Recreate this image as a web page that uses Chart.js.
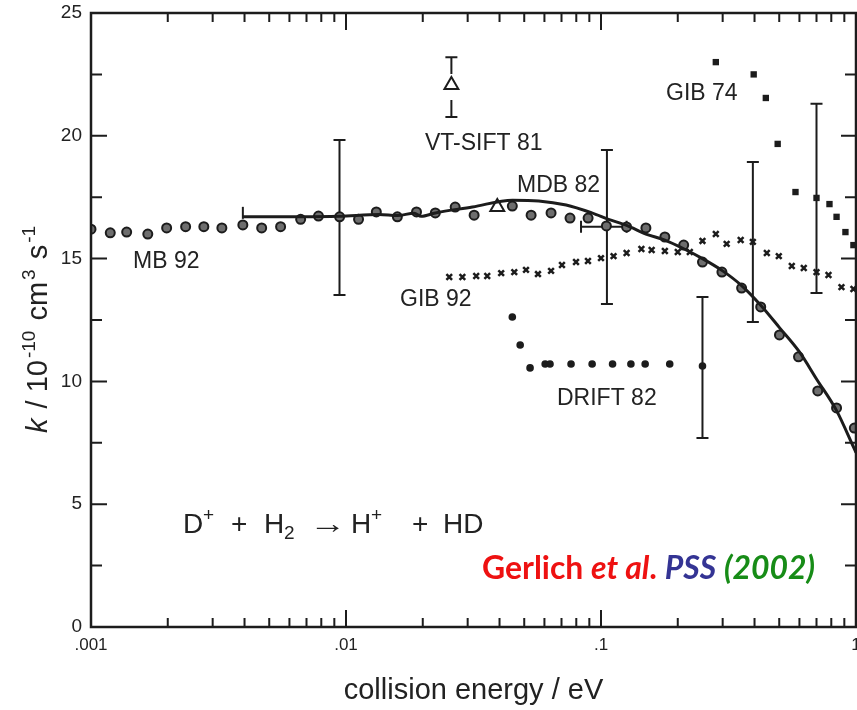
<!DOCTYPE html>
<html>
<head>
<meta charset="utf-8">
<script src="https://cdn.jsdelivr.net/npm/chart.js@4.4.1/dist/chart.umd.min.js"></script>
<style>
  html, body { margin: 0; padding: 0; background: #fff; }
  #wrap { width: 857px; height: 710px; }
</style>
</head>
<body>
<div id="wrap"><canvas id="rateChart" width="857" height="710"></canvas></div>
<script>
// MB 92 (merged beam)
const mbEnergy = [0.001, 0.00119, 0.00138, 0.00167, 0.00198, 0.00235, 0.00277, 0.00326, 0.00394, 0.00467,
  0.00554, 0.00664, 0.0078, 0.00944, 0.0112, 0.01315, 0.0159, 0.0189, 0.0224, 0.0268, 0.0318, 0.0449,
  0.0532, 0.0637, 0.0756, 0.089, 0.105, 0.126, 0.15, 0.178, 0.211, 0.25, 0.298, 0.356, 0.423, 0.501,
  0.595, 0.708, 0.839, 0.985];
const mbRate = [16.2, 16.05, 16.08, 16.0, 16.25, 16.3, 16.3, 16.25, 16.37, 16.25,
  16.3, 16.6, 16.73, 16.7, 16.6, 16.9, 16.7, 16.9, 16.86, 17.1, 16.77, 17.14,
  16.77, 16.86, 16.65, 16.65, 16.33, 16.29, 16.25, 15.88, 15.55, 14.86, 14.45, 13.8, 13.03, 11.89,
  11.0, 9.61, 8.92, 8.1];

// smooth fit through MB 92
const fitEnergy = [0.00394, 0.0066, 0.0094, 0.0135, 0.0159, 0.0185, 0.0197, 0.0224, 0.0313, 0.045,
  0.057, 0.073, 0.092, 0.107, 0.126, 0.15, 0.178, 0.211, 0.25, 0.3, 0.356, 0.423, 0.5, 0.6, 0.7,
  0.84, 0.98, 1.0];
const fitRate = [16.7, 16.7, 16.72, 16.8, 16.75, 16.85, 16.72, 16.86, 17.1, 17.38,
  17.35, 17.18, 16.86, 16.6, 16.35, 16.0, 15.75, 15.4, 15.0, 14.5, 13.9, 13.1, 12.2, 11.2, 10.1,
  8.8, 7.3, 7.1];

// GIB 92
const gib92Energy = [0.0254, 0.0286, 0.0324, 0.0358, 0.0406, 0.0457, 0.0508, 0.0566, 0.0637, 0.0703,
  0.0798, 0.0889, 0.1, 0.112, 0.126, 0.144, 0.158, 0.178, 0.2, 0.223, 0.25, 0.282, 0.311, 0.353,
  0.394, 0.447, 0.498, 0.56, 0.624, 0.7, 0.78, 0.877, 0.977];
const gib92Rate = [14.25, 14.25, 14.29, 14.29, 14.41, 14.45, 14.54, 14.37, 14.5, 14.74,
  14.86, 14.9, 15.02, 15.1, 15.23, 15.39, 15.35, 15.31, 15.27, 15.27, 15.72, 16.0, 15.6, 15.76,
  15.68, 15.23, 15.1, 14.7, 14.62, 14.45, 14.33, 13.84, 13.76];

// GIB 74
const gib74Energy = [0.282, 0.397, 0.443, 0.493, 0.579, 0.7, 0.787, 0.839, 0.909, 0.977];
const gib74Rate = [23.0, 22.5, 21.54, 19.67, 17.71, 17.47, 17.22, 16.7, 16.08, 15.55];

// DRIFT 82
const driftEnergy = [0.0449, 0.0482, 0.0527, 0.0604, 0.0631, 0.0763, 0.0923, 0.111, 0.131, 0.149, 0.186, 0.25];
const driftRate = [12.62, 11.48, 10.55, 10.71, 10.71, 10.71, 10.71, 10.71, 10.71, 10.71, 10.71, 10.63];

// single points
const siftEnergy = [0.0259];
const siftRate = [22.07];
const mdbEnergy = [0.0392];
const mdbRate = [17.1];

// vertical error bars
const errEnergy = [0.00943, 0.1055, 0.394, 0.70, 0.25, 0.0259];
const errLow = [13.52, 13.15, 12.42, 13.6, 7.7, 20.77];
const errHigh = [19.83, 19.42, 18.93, 21.3, 13.44, 23.2];
const errGap = [0, 0, 0, 0, 0, 13];

// horizontal error bar
const hErrRate = [16.3];
const hErrLow = [0.0835];
const hErrHigh = [0.126];

// ticks
const xTickValues = [0.001, 0.01, 0.1, 1];
const xTickLabels = [".001", ".01", ".1", "1"];
const yTickStep = 5;
const yMinorStep = 2.5;

const ink = "#1c1c1c";
const sans = '"Liberation Sans", Arial, Helvetica, sans-serif';

function xy(xs, ys) {
  return xs.map((x, i) => ({ x: x, y: ys[i] }));
}

// frame, inward ticks, error bars and text
const figurePlugin = {
  id: "figure",
  beforeDatasetsDraw(chart) {
    const { ctx, scales: { x, y } } = chart;
    ctx.save();
    ctx.strokeStyle = ink;
    ctx.lineWidth = 2;
    ctx.lineCap = "butt";

    errEnergy.forEach((e, i) => {
      const px = x.getPixelForValue(e);
      const lo = y.getPixelForValue(errLow[i]);
      const hi = y.getPixelForValue(errHigh[i]);
      const mid = (lo + hi) / 2;
      ctx.beginPath();
      if (errGap[i]) {
        ctx.moveTo(px, hi); ctx.lineTo(px, mid - errGap[i]);
        ctx.moveTo(px, mid + errGap[i]); ctx.lineTo(px, lo);
      } else {
        ctx.moveTo(px, hi); ctx.lineTo(px, lo);
      }
      ctx.moveTo(px - 6, hi); ctx.lineTo(px + 6, hi);
      ctx.moveTo(px - 6, lo); ctx.lineTo(px + 6, lo);
      ctx.stroke();
    });

    hErrRate.forEach((k, i) => {
      const py = y.getPixelForValue(k);
      const a = x.getPixelForValue(hErrLow[i]);
      const b = x.getPixelForValue(hErrHigh[i]);
      ctx.beginPath();
      ctx.moveTo(a, py); ctx.lineTo(b, py);
      ctx.moveTo(a, py - 6); ctx.lineTo(a, py + 6);
      ctx.moveTo(b, py - 6); ctx.lineTo(b, py + 6);
      ctx.stroke();
    });

    // little bar at start of fit
    const fx = x.getPixelForValue(fitEnergy[0]);
    const fy = y.getPixelForValue(fitRate[0]);
    ctx.beginPath();
    ctx.moveTo(fx, fy - 10); ctx.lineTo(fx, fy + 2);
    ctx.stroke();
    ctx.restore();
  },
  afterDraw(chart) {
    const { ctx, chartArea: a, scales: { x, y } } = chart;
    ctx.save();
    ctx.strokeStyle = ink;

    // frame
    ctx.lineWidth = 2.5;
    ctx.strokeRect(a.left, a.top, a.right - a.left, a.bottom - a.top);

    // x ticks (bottom and top)
    ctx.lineWidth = 2;
    ctx.beginPath();
    for (let d = 0; d < xTickValues.length; d++) {
      const dec = xTickValues[d];
      for (let m = 1; m <= 9; m++) {
        const v = dec * m;
        if (v > 1.0001) break;
        const px = x.getPixelForValue(v);
        const len = m === 1 ? 17 : 9;
        ctx.moveTo(px, a.bottom); ctx.lineTo(px, a.bottom - len);
        ctx.moveTo(px, a.top); ctx.lineTo(px, a.top + len);
      }
    }
    // y ticks (left and right)
    for (let v = 0; v <= 25; v += yMinorStep) {
      const py = y.getPixelForValue(v);
      const major = v % yTickStep === 0;
      ctx.moveTo(a.left, py); ctx.lineTo(a.left + (major ? 16 : 11), py);
      ctx.moveTo(a.right, py); ctx.lineTo(a.right - (major ? 15 : 11), py);
    }
    ctx.stroke();

    // series labels
    ctx.fillStyle = "#222";
    ctx.font = "23px " + sans;
    ctx.textBaseline = "middle";
    ctx.textAlign = "left";
    ctx.fillText("MB 92", 133, 262);
    ctx.fillText("VT-SIFT 81", 425, 144);
    ctx.fillText("MDB 82", 517, 186);
    ctx.fillText("GIB 74", 666, 94);
    ctx.fillText("GIB 92", 400, 300);
    ctx.fillText("DRIFT 82", 557, 399);

    // reaction
    ctx.textBaseline = "alphabetic";
    const base = 533;
    const big = "28px " + sans;
    const small = "19px " + sans;
    const parts = [
      ["D", big, 183, 0], ["+", small, 203, -12], ["+", big, 231, 0], ["H", big, 264, 0],
      ["2", small, 284, 6], ["H", big, 351, 0], ["+", small, 371, -12], ["+", big, 412, 0], ["HD", big, 443, 0]
    ];
    parts.forEach(p => {
      ctx.font = p[1];
      ctx.fillText(p[0], p[2], base + p[3]);
    });
    ctx.font = "28px " + sans;
    const aw = ctx.measureText("\u2192").width;
    ctx.save();
    ctx.translate(309, base);
    ctx.scale(37 / aw, 1);
    ctx.fillText("\u2192", 0, 0);
    ctx.restore();

    // citation
    const cite = [
      ["Gerlich ", "bold", "#ee1111"], ["et al", "italic bold", "#ee1111"], [". ", "bold", "#ee1111"],
      ["PSS", "italic bold", "#343494"], [" ", "bold", "#343494"], ["(2002)", "italic bold", "#178c17"]
    ];
    const fam = 'Lato, "Open Sans", sans-serif';
    let tot = 0;
    cite.forEach(c => { ctx.font = c[1] + " 100px " + fam; tot += ctx.measureText(c[0]).width; });
    const size = 100 * 333 / tot;
    let cx = 482;
    cite.forEach(c => {
      ctx.font = c[1] + " " + size.toFixed(2) + "px " + fam;
      ctx.fillStyle = c[2];
      ctx.fillText(c[0], cx, 579);
      cx += ctx.measureText(c[0]).width;
    });

    // y axis title
    ctx.fillStyle = "#222";
    ctx.translate(47, 433);
    ctx.rotate(-Math.PI / 2);
    const ty = [
      ["k", "italic 29px " + sans, 0], [" / 10", "29px " + sans, 0], ["-10", "19px " + sans, -12],
      [" cm", "29px " + sans, 0], ["3", "19px " + sans, -12], [" s", "29px " + sans, 0], ["-1", "19px " + sans, -12]
    ];
    let tx = 0;
    ty.forEach(t => {
      ctx.font = t[1];
      ctx.fillText(t[0], tx, t[2]);
      tx += ctx.measureText(t[0]).width + 2;
    });
    ctx.restore();
  }
};

new Chart(document.getElementById("rateChart"), {
  type: "scatter",
  data: {
    datasets: [
      {
        label: "fit", type: "line", data: xy(fitEnergy, fitRate), order: 0,
        borderColor: ink, borderWidth: 3, pointRadius: 0, cubicInterpolationMode: "monotone", fill: false
      },
      {
        label: "MB 92", data: xy(mbEnergy, mbRate), order: 1,
        pointStyle: "circle", pointRadius: 4.5, borderWidth: 2, borderColor: ink, backgroundColor: "#6e6e6e"
      },
      {
        label: "GIB 92", data: xy(gib92Energy, gib92Rate), order: 1,
        pointStyle: "crossRot", pointRadius: 4, borderWidth: 2.5, borderColor: ink
      },
      {
        label: "GIB 74", data: xy(gib74Energy, gib74Rate), order: 1,
        pointStyle: "rect", pointRadius: 4.5, borderWidth: 0, backgroundColor: ink
      },
      {
        label: "DRIFT 82", data: xy(driftEnergy, driftRate), order: 1,
        pointStyle: "circle", pointRadius: 3.8, borderWidth: 0, backgroundColor: ink
      },
      {
        label: "VT-SIFT 81", data: xy(siftEnergy, siftRate), order: 1,
        pointStyle: "triangle", pointRadius: 8, borderWidth: 2, borderColor: ink, backgroundColor: "#fff"
      },
      {
        label: "MDB 82", data: xy(mdbEnergy, mdbRate), order: 1,
        pointStyle: "triangle", pointRadius: 8, borderWidth: 2, borderColor: ink, backgroundColor: "#fff"
      }
    ]
  },
  options: {
    responsive: false,
    animation: false,
    layout: { autoPadding: false, padding: { top: 13, right: 1, left: 0, bottom: 0 } },
    plugins: { legend: { display: false }, tooltip: { enabled: false } },
    scales: {
      x: {
        type: "logarithmic",
        min: 0.001,
        max: 1,
        afterBuildTicks(s) { s.ticks = xTickValues.map(v => ({ value: v })); },
        afterFit(s) { s.height = 83; s.paddingLeft = 0; s.paddingRight = 0; },
        grid: { display: false, drawTicks: false },
        border: { display: false },
        ticks: {
          autoSkip: false, maxRotation: 0, padding: 8, color: "#222",
          font: { family: sans, size: 17 },
          callback: (v) => {
            const i = xTickValues.findIndex(t => Math.abs(t - v) < v * 1e-6);
            return i >= 0 ? xTickLabels[i] : "";
          }
        },
        title: {
          display: true, text: "collision energy / eV", color: "#222",
          font: { family: sans, size: 29 }, padding: { top: 0, bottom: 2 }
        }
      },
      y: {
        min: 0,
        max: 25,
        afterFit(s) { s.width = 91; s.paddingTop = 0; s.paddingBottom = 0; },
        grid: { display: false, drawTicks: false },
        border: { display: false },
        ticks: { stepSize: yTickStep, padding: 9, color: "#222", font: { family: sans, size: 19 } }
      }
    }
  },
  plugins: [figurePlugin]
});
</script>
</body>
</html>
